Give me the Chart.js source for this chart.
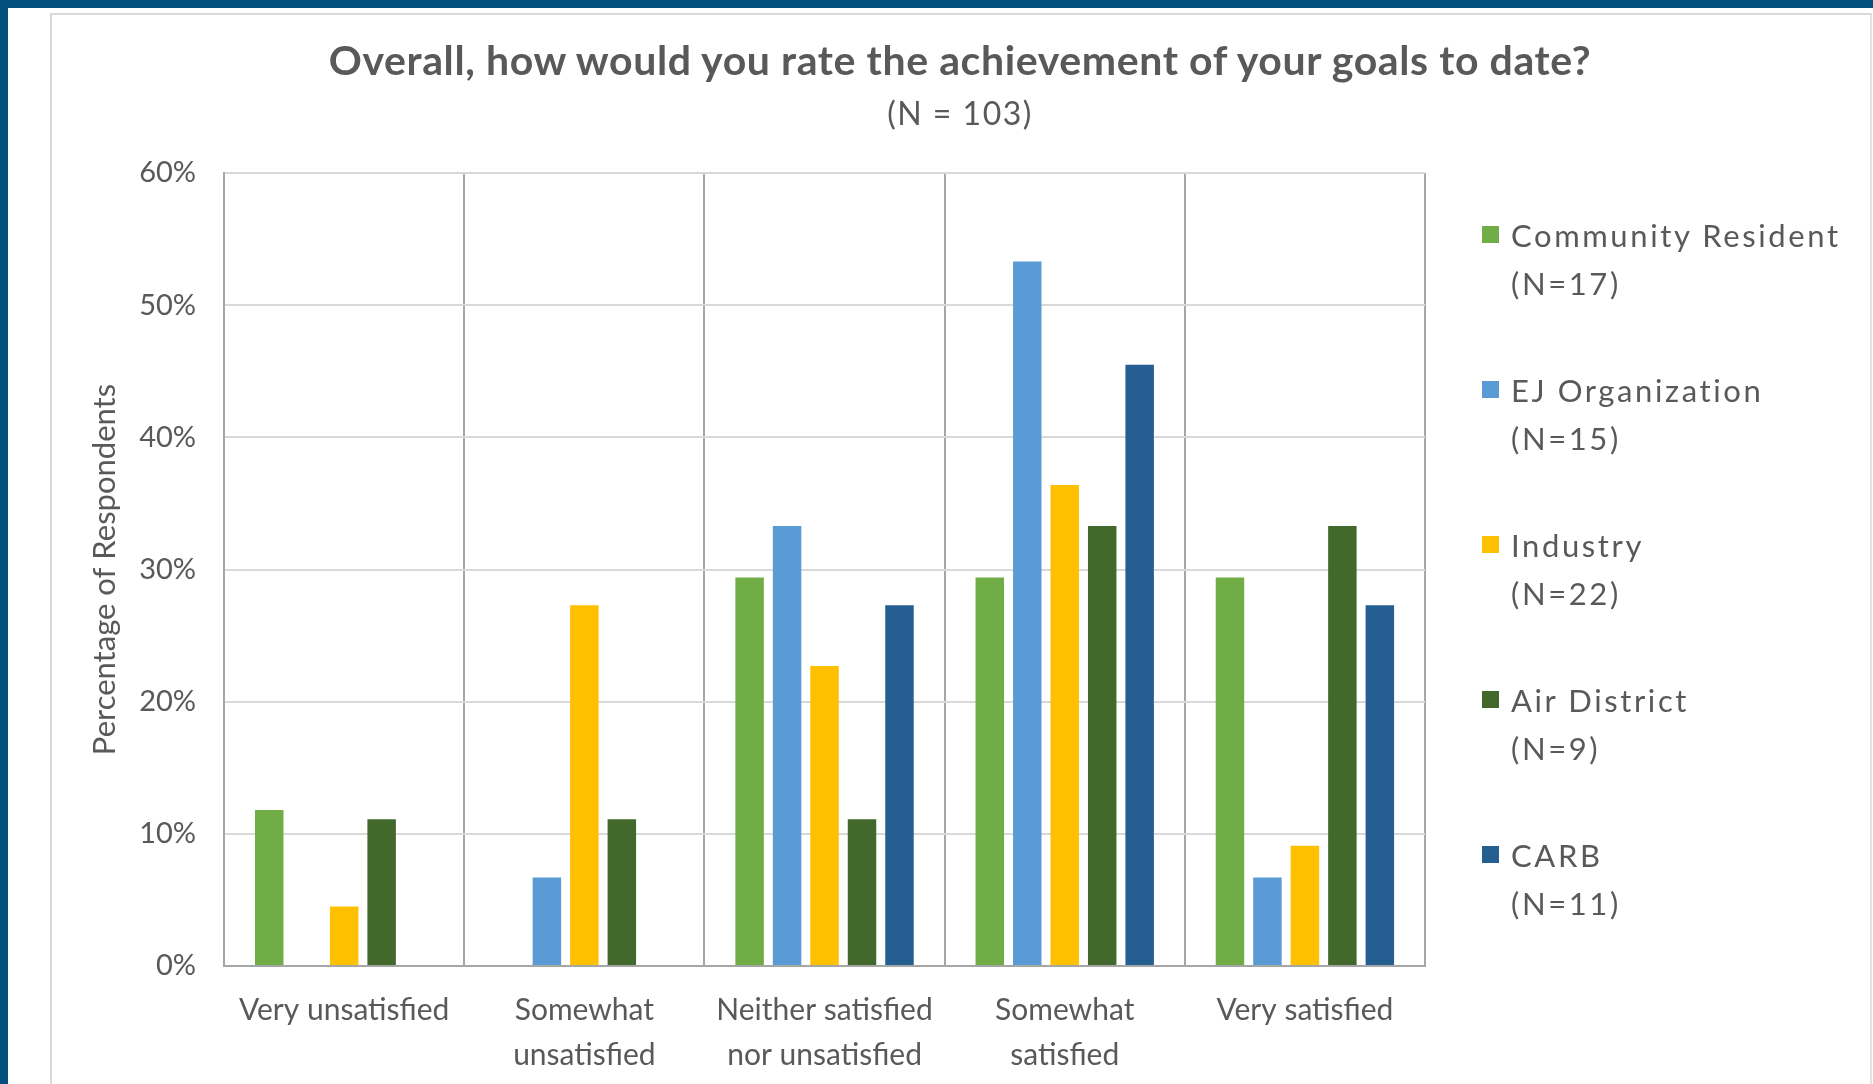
<!DOCTYPE html>
<html>
<head>
    <title>Achievement of goals to date</title>
    <script src="https://cdn.jsdelivr.net/npm/chart.js"></script>
    <style>
        html, body {margin: 0; padding: 0; width: 1873px; height: 1084px; overflow: hidden; background: #03507e;}
        #sheet {position: absolute; left: 8px; top: 8px; right: 0; bottom: 0; background: #fff;}
        #frame {position: absolute; left: 42px; top: 5px; width: 1818px; height: 1100px; border: 2px solid #d9d9d9; border-right: 2px solid #e2e2e2;}
        #chartBox {position: absolute; left: 0; top: 0; width: 1818px; height: 1092px;}
        #titles {position: absolute; left: 0; top: 0; width: 1920px; text-align: center; color: #595959; font-family: Lato, sans-serif;}
        #charttitle {position: absolute; left: 0; width: 100%; top: 36px; font-size: 41px; line-height: 48px; font-weight: bold; letter-spacing: 0.6px;}
        #chartsubhead {position: absolute; left: 0; width: 100%; top: 94px; font-size: 32px; line-height: 38px; letter-spacing: 1.5px;}
        #legend {position: absolute; left: 1430px; top: 196px; font: 31px Lato, sans-serif; color: #595959; letter-spacing: 2.6px;}
        .item {position: relative; height: 155px; padding-left: 29px; line-height: 48px;}
        .item span {position: absolute; left: 0; top: 15px; width: 17px; height: 17px;}
    </style>
</head>
<body>
    <div id="sheet">
      <div id="frame">
        <div id="chartBox"><canvas id="myChart"></canvas></div>
        <div id="legend"></div>
      </div>
    </div>
    <div id="titles">
        <div id="charttitle">Overall, how would you rate the achievement of your goals to date?</div>
        <div id="chartsubhead">(N = 103)</div>
    </div>
    <script>
        // survey answers, percent of each group
        var categories = [
            'Very unsatisfied',
            ['Somewhat', 'unsatisfied'],
            ['Neither satisfied', 'nor unsatisfied'],
            ['Somewhat', 'satisfied'],
            'Very satisfied'
        ];
        var groupNames = ['Community Resident', 'EJ Organization', 'Industry', 'Air District', 'CARB'];
        var groupN = ['(N=17)', '(N=15)', '(N=22)', '(N=9)', '(N=11)'];

        var communityResident = [11.8, 0, 29.4, 29.4, 29.4];
        var ejOrganization   = [0, 6.7, 33.3, 53.3, 6.7];
        var industry         = [4.5, 27.3, 22.7, 36.4, 9.1];
        var airDistrict      = [11.1, 11.1, 11.1, 33.3, 33.3];
        var carb             = [0, 0, 27.3, 45.5, 27.3];

        var yTicks = [0, 10, 20, 30, 40, 50, 60];

        var colors = ['#70ad47', '#5b9bd5', '#ffc000', '#43682b', '#255e91'];

        var seriesValues = [communityResident, ejOrganization, industry, airDistrict, carb];
        var fontFamily = 'Lato, sans-serif';
        var textColor = '#595959';

        var datasets = seriesValues.map(function(vals, i) {
            return {
                label: groupNames[i],
                data: vals,
                backgroundColor: colors[i],
                categoryPercentage: 0.78,
                barPercentage: 0.76
            };
        });

        // html legend, two lines per entry
        var legendEl = document.getElementById('legend');
        groupNames.forEach(function(name, i) {
            var div = document.createElement('div');
            div.className = 'item';
            div.innerHTML = '<span style="background:' + colors[i] + '"></span>' + name + '<br>' + groupN[i];
            legendEl.appendChild(div);
        });

        var ctx = document.getElementById('myChart').getContext('2d');
        new Chart(ctx, {
            type: 'bar',
            data: {
                labels: categories,
                datasets: datasets
            },
            options: {
                responsive: true,
                maintainAspectRatio: false,
                animation: false,
                layout: {
                    padding: {left: 0, right: 445, top: 158, bottom: 7}
                },
                plugins: {
                    legend: {display: false},
                    tooltip: {enabled: false}
                },
                scales: {
                    x: {
                        grid: {
                            offset: true,
                            color: '#a6a6a6',
                            lineWidth: 2,
                            drawTicks: false
                        },
                        border: {color: '#a6a6a6', width: 2},
                        ticks: {
                            color: textColor,
                            maxRotation: 0,
                            autoSkip: false,
                            padding: 22,
                            font: {family: fontFamily, size: 30, lineHeight: 1.5}
                        }
                    },
                    y: {
                        min: 0,
                        max: 60,
                        afterBuildTicks: function(axis) {
                            axis.ticks = yTicks.map(function(v) { return {value: v}; });
                        },
                        grid: {
                            color: '#d9d9d9',
                            lineWidth: 2,
                            drawTicks: false
                        },
                        border: {color: '#a6a6a6', width: 2},
                        ticks: {
                            color: textColor,
                            padding: 28,
                            font: {family: fontFamily, size: 29},
                            callback: function(v) { return v + '%'; }
                        },
                        title: {
                            display: true,
                            text: 'Percentage of Respondents',
                            color: textColor,
                            padding: {top: 34, bottom: -12},
                            font: {family: fontFamily, size: 31}
                        }
                    }
                }
            }
        });
    </script>
</body>
</html>
